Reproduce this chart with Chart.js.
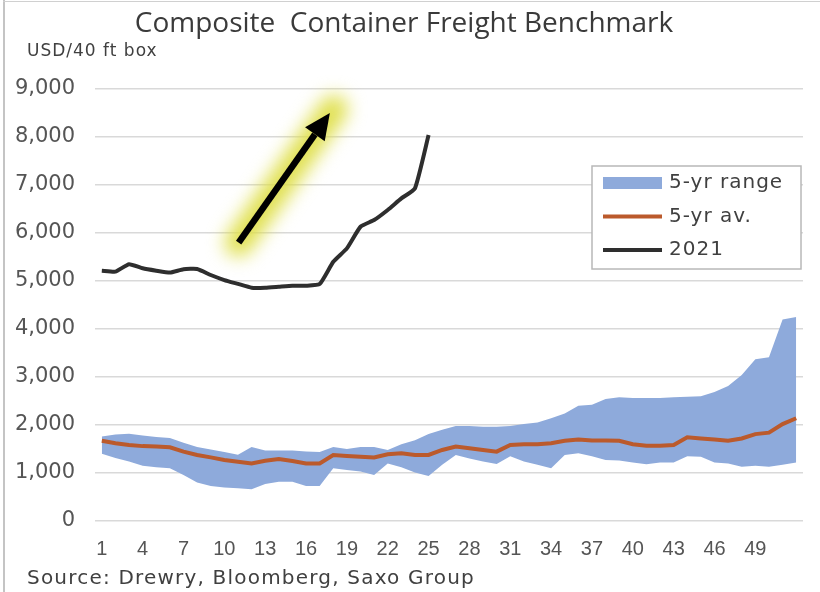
<!DOCTYPE html>
<html>
<head>
<meta charset="utf-8">
<script src="https://cdn.jsdelivr.net/npm/chart.js@4.4.1/dist/chart.umd.min.js"></script>
<style>
  html, body { margin: 0; padding: 0; background: #fff; }
  #wrap { position: relative; width: 820px; height: 592px; }
  #frameL { position: absolute; left: 3px; top: 0; width: 2px; height: 592px; background: #c4c4c4; }
  #frameT { position: absolute; left: 3px; top: 1px; width: 817px; height: 1px; background: #d0d0d0; }
</style>
</head>
<body>
<div id="wrap">
  <canvas id="myChart" width="820" height="592"></canvas>
  <div id="frameL"></div>
  <div id="frameT"></div>
</div>
<script>
// week numbers on the x axis
var weeks = ["1","2","3","4","5","6","7","8","9","10","11","12","13","14","15","16","17","18","19","20",
  "21","22","23","24","25","26","27","28","29","30","31","32","33","34","35","36","37","38","39","40",
  "41","42","43","44","45","46","47","48","49","50","51","52"];
var xTickLabels = ["1","4","7","10","13","16","19","22","25","28","31","34","37","40","43","46","49"];

// 5-yr range, upper and lower bound
var rangeHigh = [1760, 1800, 1820, 1780, 1750, 1730, 1630, 1540, 1490, 1440, 1380, 1540, 1470, 1470, 1470, 1450, 1440, 1540, 1500, 1540,
  1540, 1480, 1600, 1680, 1810, 1900, 1980, 1980, 1965, 1965, 1980, 2020, 2050, 2140, 2240, 2400, 2420, 2540, 2580, 2560,
  2560, 2560, 2580, 2590, 2600, 2690, 2810, 3040, 3370, 3410, 4200, 4250];
var rangeLow = [1400, 1310, 1240, 1150, 1120, 1100, 960, 800, 730, 700, 680, 660, 770, 820, 820, 730, 730, 1100, 1060, 1030,
  960, 1200, 1120, 1010, 940, 1170, 1375, 1300, 1240, 1190, 1350, 1240, 1170, 1100, 1375, 1410, 1350, 1270, 1260, 1220,
  1180, 1220, 1220, 1350, 1340, 1220, 1200, 1130, 1150, 1130, 1170, 1220];
// 5-yr average
var avg5 = [1670, 1620, 1585, 1560, 1550, 1535, 1445, 1375, 1325, 1270, 1235, 1200, 1255, 1290, 1250, 1200, 1200, 1375, 1355, 1340,
  1325, 1390, 1410, 1375, 1375, 1480, 1550, 1515, 1480, 1445, 1585, 1600, 1600, 1620, 1670, 1700, 1675, 1675, 1670, 1600,
  1570, 1570, 1585, 1745, 1720, 1700, 1670, 1720, 1810, 1840, 2020, 2140];
// 2021 so far
var y2021 = [5215, 5195, 5350, 5265, 5215, 5175, 5245, 5250, 5125, 5020, 4940, 4860, 4860, 4880, 4900, 4900, 4935, 5400, 5680, 6130,
  6270, 6480, 6720, 6930, 8040];

var yTicks = [0, 1000, 2000, 3000, 4000, 5000, 6000, 7000, 8000, 9000];

var BAND = "#8eaadb";
var AVG = "#bb5a2c";
var LINE21 = "#2e2e2e";

var legendItems = [
  { text: "5-yr range", color: BAND, kind: "box" },
  { text: "5-yr av.", color: AVG, kind: "line" },
  { text: "2021", color: LINE21, kind: "line" }
];

// title, source, legend and the arrow are drawn by hand
var decor = {
  id: "decor",
  afterDatasetsDraw: function (chart) {
    var ctx = chart.ctx;
    var x = chart.scales.x, y = chart.scales.y;

    // arrow with yellow glow, placed in data space
    var x0 = x.getPixelForValue(10.05), y0 = y.getPixelForValue(5800);
    var x1 = x.getPixelForValue(16.75), y1 = y.getPixelForValue(8500);
    ctx.save();
    ctx.filter = "blur(9px)";
    ctx.strokeStyle = "rgba(222,222,70,0.95)";
    ctx.lineWidth = 28;
    ctx.lineCap = "round";
    ctx.beginPath();
    ctx.moveTo(x0, y0);
    ctx.lineTo(x1 + 4, y1 - 4);
    ctx.stroke();
    ctx.restore();

    ctx.save();
    var ang = Math.atan2(y1 - y0, x1 - x0);
    var headLen = 26, headW = 12;
    var bx = x1 - headLen * Math.cos(ang), by = y1 - headLen * Math.sin(ang);
    ctx.strokeStyle = "#000";
    ctx.lineWidth = 6.5;
    ctx.beginPath();
    ctx.moveTo(x0, y0);
    ctx.lineTo(bx, by);
    ctx.stroke();
    ctx.fillStyle = "#000";
    ctx.beginPath();
    ctx.moveTo(x1, y1);
    ctx.lineTo(bx + headW * Math.sin(ang), by - headW * Math.cos(ang));
    ctx.lineTo(bx - headW * Math.sin(ang), by + headW * Math.cos(ang));
    ctx.closePath();
    ctx.fill();
    ctx.restore();
  },
  afterDraw: function (chart) {
    var ctx = chart.ctx;
    ctx.save();
    ctx.textBaseline = "middle";

    ctx.fillStyle = "#3a3a3a";
    ctx.font = "28px 'Open Sans'";
    ctx.textAlign = "center";
    ctx.fillText("Composite  Container Freight Benchmark", 404, 24);

    ctx.textAlign = "left";
    ctx.letterSpacing = "1px";
    ctx.font = "17px 'DejaVu Sans'";
    ctx.fillStyle = "#404040";
    ctx.fillText("USD/40 ft box", 27, 52);

    ctx.letterSpacing = "1.2px";
    ctx.font = "20px 'DejaVu Sans'";
    ctx.fillStyle = "#404040";
    ctx.fillText("Source: Drewry, Bloomberg, Saxo Group", 27, 579);

    // legend box
    ctx.letterSpacing = "1px";
    ctx.strokeStyle = "#b8b8b8";
    ctx.lineWidth = 1.5;
    ctx.fillStyle = "#fff";
    ctx.fillRect(592, 166, 209, 103);
    ctx.strokeRect(592, 166, 209, 103);
    ctx.font = "20px 'DejaVu Sans'";
    legendItems.forEach(function (it, i) {
      var cy = 183 + i * 33.5;
      if (it.kind === "box") {
        ctx.fillStyle = it.color;
        ctx.fillRect(603, cy - 6, 59, 12);
      } else {
        ctx.strokeStyle = it.color;
        ctx.lineWidth = 4;
        ctx.beginPath();
        ctx.moveTo(603, cy);
        ctx.lineTo(662, cy);
        ctx.stroke();
      }
      ctx.fillStyle = "#404040";
      ctx.fillText(it.text, 669, cy);
    });
    ctx.restore();
  }
};

var ctx = document.getElementById("myChart").getContext("2d");
var chart = new Chart(ctx, {
  type: "line",
  data: {
    labels: weeks,
    datasets: [
      {
        label: "low",
        data: rangeLow,
        borderWidth: 0,
        pointRadius: 0,
        fill: false,
        order: 3
      },
      {
        label: "5-yr range",
        data: rangeHigh,
        borderWidth: 0,
        pointRadius: 0,
        backgroundColor: BAND,
        fill: "-1",
        order: 2
      },
      {
        label: "5-yr av.",
        data: avg5,
        borderColor: AVG,
        borderWidth: 4,
        pointRadius: 0,
        fill: false,
        order: 1
      },
      {
        label: "2021",
        data: y2021,
        borderColor: LINE21,
        borderWidth: 4,
        pointRadius: 0,
        fill: false,
        tension: 0.15,
        order: 0
      }
    ]
  },
  options: {
    responsive: false,
    animation: false,
    locale: "en-US",
    layout: { padding: { left: 5, right: 17, top: 89, bottom: 30 } },
    plugins: {
      legend: { display: false },
      tooltip: { enabled: false }
    },
    scales: {
      x: {
        offset: true,
        grid: { display: false, drawTicks: false },
        border: { display: false },
        afterFit: function (s) { s.height = 41; },
        ticks: {
          autoSkip: false,
          maxRotation: 0,
          padding: 16,
          color: "#555",
          font: { family: "'Liberation Sans'", size: 20 },
          callback: function (v, i) {
            var w = weeks[i];
            return xTickLabels.indexOf(w) >= 0 ? w : "";
          }
        }
      },
      y: {
        min: yTicks[0],
        max: yTicks[yTicks.length - 1],
        afterFit: function (s) { s.width = 90; },
        afterBuildTicks: function (s) {
          s.ticks = yTicks.map(function (v) { return { value: v }; });
        },
        grid: { color: "#d9d9d9", lineWidth: 1.4, drawTicks: false },
        border: { display: false },
        ticks: {
          padding: 20,
          color: "#555",
          font: { family: "'DejaVu Sans'", size: 21 }
        }
      }
    }
  },
  plugins: [decor]
});
</script>
</body>
</html>
